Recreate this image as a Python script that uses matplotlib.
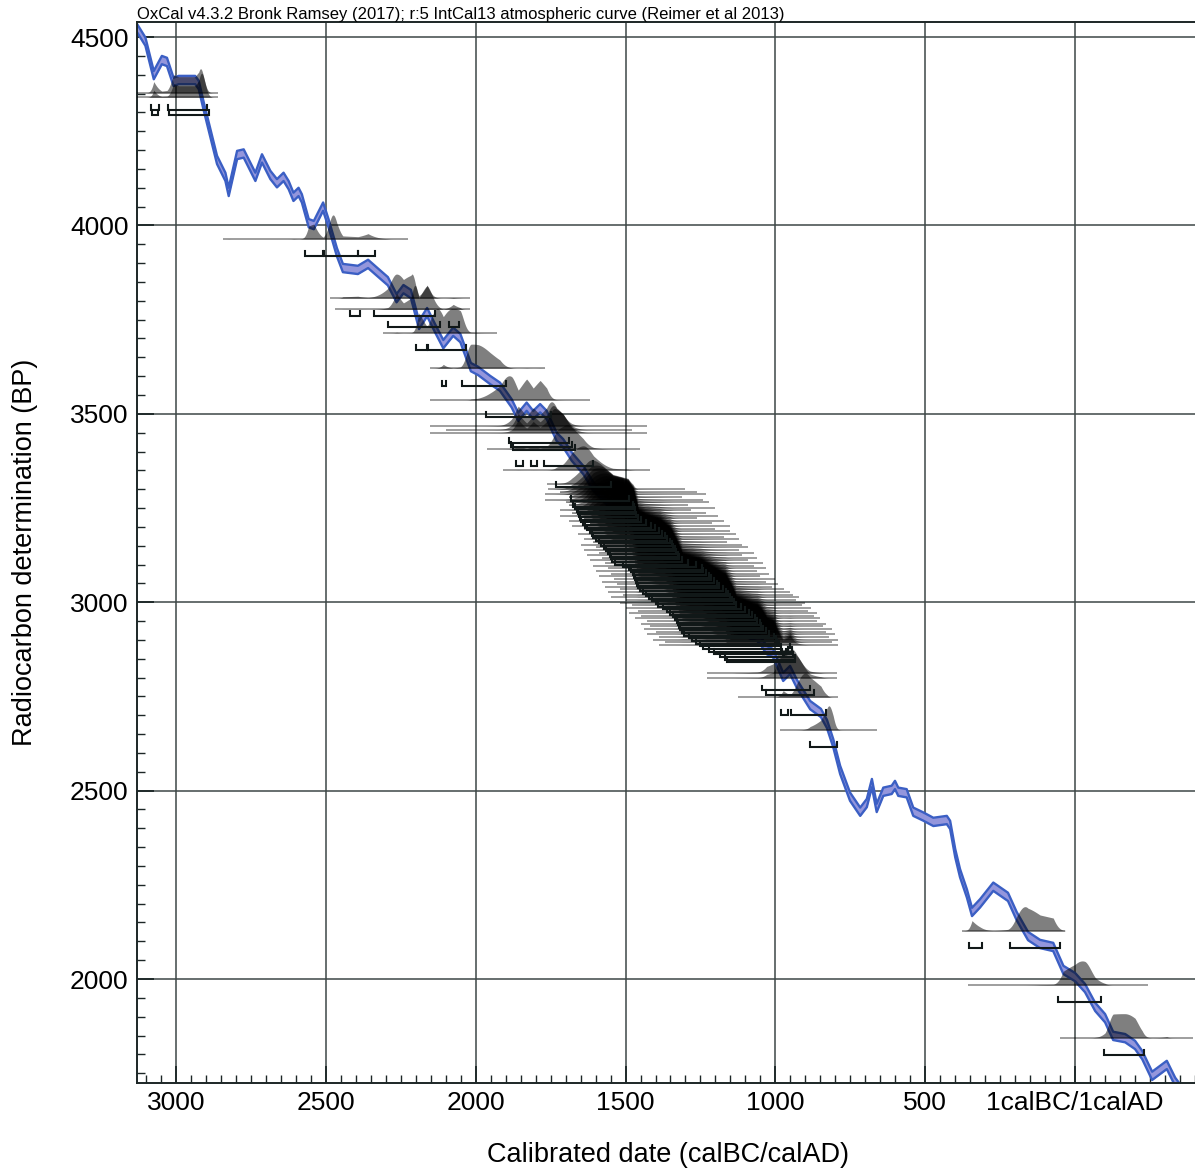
import numpy as np
import matplotlib
matplotlib.use('Agg')
import matplotlib.pyplot as plt

plt.rcParams['font.family'] = ['Liberation Sans', 'DejaVu Sans']

# IntCal13 curve (years: BC negative, AD positive)
curve_yr = np.array([
    -3130, -3102, -3074, -3047, -3030, -3008, -2991, -2936, -2924, -2907,
    -2863, -2835, -2824, -2796, -2774, -2735, -2713, -2685, -2663, -2641,
    -2624, -2608, -2591, -2580, -2557, -2540, -2509, -2491, -2463, -2443,
    -2393, -2359, -2329, -2293, -2264, -2241, -2216, -2189, -2162, -2136,
    -2108, -2075, -2051, -2016, -1992, -1952, -1919, -1880, -1858, -1830,
    -1808, -1785, -1763, -1730, -1708, -1679, -1641, -1607, -1574, -1542,
    -1492, -1475, -1458, -1435, -1385, -1351, -1331, -1311, -1251, -1201,
    -1168, -1148, -1131, -1101, -1078, -1061, -1051,
    -1029, -1008, -974, -951, -928, -884, -848, -828, -807, -784,
    -751, -717, -695, -678, -662, -640, -612, -601, -590, -562,
    -540, -506, -473, -428, -417, -400, -384, -361, -344, -317,
    -273, -224, -195, -157, -117, -73, -39, 0, 33, 67,
    100, 127, 167, 200, 224, 257, 306, 334, 367, 400])
curve_bp = np.array([
    4524, 4488, 4399, 4439, 4434, 4381, 4386, 4386, 4373, 4315,
    4174, 4129, 4089, 4187, 4191, 4129, 4178, 4134, 4112, 4129,
    4107, 4076, 4089, 4072, 4006, 4001, 4050, 4006, 3929, 3887,
    3882, 3898, 3877, 3852, 3807, 3831, 3818, 3736, 3770, 3728,
    3685, 3718, 3701, 3624, 3614, 3590, 3572, 3528, 3492, 3519,
    3497, 3515, 3497, 3439, 3422, 3386, 3351, 3307, 3280, 3253,
    3240, 3215, 3160, 3150, 3135, 3112, 3080, 3045, 3030, 3005,
    2990, 2960, 2930, 2920, 2912, 2908, 2900,
    2873, 2865, 2802, 2820, 2783, 2727, 2706, 2677, 2626, 2555,
    2484, 2444, 2467, 2520, 2454, 2497, 2502, 2515, 2497, 2493,
    2444, 2431, 2417, 2422, 2409, 2334, 2281, 2227, 2178, 2201,
    2245, 2218, 2167, 2114, 2093, 2085, 2024, 2005, 1976, 1926,
    1896, 1849, 1843, 1825, 1798, 1743, 1772, 1727, 1692, 1660])
curve_sd = 11

# isolated radiocarbon determinations (BP, 1 sigma) and baseline spans
single_bp = [4352, 4340, 3964, 3807, 3777, 3715, 3621, 3537,
             3468, 3458, 3450, 3407, 3351, 3314,
             2812, 2799, 2748, 2661, 2128, 1984, 1844]
single_sd = [35, 35, 35, 30, 30, 30, 30, 30,
             35, 35, 35, 40, 40, 40,
             35, 35, 30, 30, 35, 35, 25]
single_from = [-3130, -3130, -2843, -2486, -2469, -2309, -2152, -2152,
               -2152, -2100, -2152, -1962, -1909, -1762,
               -1228, -1228, -1125, -984, -377, -357, -50]
single_to = [-2860, -2860, -2226, -2019, -2019, -1929, -1769, -1618,
             -1428, -1480, -1428, -1452, -1418, -1508,
             -794, -794, -791, -661, -33, 244, 394]

# the dense group of determinations, 3300-2887 BP
cluster_bp = [3300, 3293, 3286, 3279, 3272, 3265, 3258, 3251, 3244, 3237,
              3230, 3223, 3216, 3209, 3202, 3195, 3188, 3181, 3174, 3167,
              3160, 3153, 3146, 3139, 3132, 3125, 3118, 3111, 3104, 3097,
              3090, 3083, 3076, 3069, 3062, 3055, 3048, 3041, 3034, 3027,
              3020, 3013, 3006, 2999, 2992, 2985, 2978, 2971, 2964, 2957,
              2950, 2943, 2936, 2929, 2922, 2915, 2908, 2901, 2894, 2887]
cluster_from = [-1760, -1720, -1770, -1690, -1770, -1700, -1690, -1650, -1720, -1680,
                -1720, -1640, -1690, -1620, -1680, -1640, -1620, -1660, -1600, -1640,
                -1610, -1650, -1600, -1640, -1590, -1630, -1580, -1620, -1570, -1610,
                -1560, -1600, -1550, -1590, -1540, -1580, -1530, -1570, -1520, -1560,
                -1510, -1550, -1500, -1520, -1480, -1500, -1460, -1490, -1450, -1470,
                -1430, -1450, -1420, -1440, -1400, -1430, -1390, -1410, -1370, -1390]
cluster_to = [-1300, -1260, -1230, -1310, -1240, -1220, -1290, -1200, -1280, -1230,
              -1190, -1260, -1170, -1210, -1150, -1200, -1150, -1130, -1170, -1120,
              -1160, -1110, -1090, -1120, -1070, -1110, -1060, -1090, -1040, -1070,
              -1030, -1060, -1020, -1050, -1000, -1030, -990, -1010, -970, -950,
              -940, -920, -930, -900, -910, -880, -890, -860, -870, -850,
              -860, -830, -840, -810, -830, -800, -820, -790, -810, -790]
cluster_sd = 45

date_bp = single_bp + cluster_bp
date_sd = single_sd + [cluster_sd] * len(cluster_bp)
line_from = single_from + cluster_from
line_to = single_to + cluster_to

x_ticks = [-3000, -2500, -2000, -1500, -1000, -500, 0]
x_labels = ['3000', '2500', '2000', '1500', '1000', '500', '1calBC/1calAD']
y_ticks = [2000, 2500, 3000, 3500, 4000, 4500]

fig = plt.figure(figsize=(11.95, 11.69), dpi=100)
ax = fig.add_axes([137 / 1195, 86 / 1169, 1058 / 1195, 1061 / 1169])
ax.set_xlim(-3130, 400)
ax.set_ylim(1724, 4540)

# calibration curve band
ax.fill_between(curve_yr, curve_bp - curve_sd, curve_bp + curve_sd,
                color='#9496dc', lw=0, zorder=2)
ax.plot(curve_yr, curve_bp - curve_sd, color='#3b5fc4', lw=1.7, zorder=2)
ax.plot(curve_yr, curve_bp + curve_sd, color='#3b5fc4', lw=1.7, zorder=2)

# calibrated distributions
t = np.arange(-3200, 451)
mu = np.interp(t, curve_yr, curve_bp)
for bp, sd, lo, hi in zip(date_bp, date_sd, line_from, line_to):
    p = np.exp(-0.5 * (bp - mu) ** 2 / (sd ** 2 + 15 ** 2))
    p = p / p.sum()
    m = (t >= lo) & (t <= hi)
    ax.hlines(bp, lo, hi, color='k', alpha=0.38, lw=1.4, zorder=3)
    h = p / p.max() * 64
    ax.fill_between(t[m], bp, bp + h[m], color='#000000', alpha=0.5,
                    lw=0, zorder=3)
    # 95.4% hpd ranges as brackets under the baseline
    order = np.argsort(p)[::-1]
    n = np.searchsorted(np.cumsum(p[order]), 0.954) + 1
    keep = np.zeros(len(t), int)
    keep[order[:n]] = 1
    edges = np.flatnonzero(np.diff(np.r_[0, keep, 0]))
    yb = bp - 46
    for a, b in zip(edges[::2], edges[1::2]):
        x0, x1 = t[a], t[b - 1] + 1
        ax.plot([x0, x0, x1, x1], [yb + 13, yb, yb, yb + 13],
                color='#111818', lw=1.5, zorder=4, solid_joinstyle='miter')

ax.set_xticks(x_ticks)
ax.set_xticklabels(x_labels)
ax.set_xticks(np.arange(-3100, 401, 50), minor=True)
ax.set_yticks(y_ticks)
ax.set_yticks(np.arange(1750, 4540, 50), minor=True)
ax.grid(True, which='major', color='#3d4747', lw=1.1)
ax.set_axisbelow(True)
ax.tick_params(which='both', direction='in', labelsize=19, pad=6,
               color='#1c2626', top=False, right=False)
ax.tick_params(which='major', length=12, width=1.3)
ax.tick_params(which='minor', length=6, width=1.0)
for s in ['left', 'bottom', 'top']:
    ax.spines[s].set_linewidth(1.4)
    ax.spines[s].set_color('#1c2626')
ax.spines['right'].set_visible(False)

fig.text(137 / 1195, 1 - 14 / 1169,
         'OxCal v4.3.2 Bronk Ramsey (2017); r:5 IntCal13 atmospheric curve (Reimer et al 2013)',
         ha='left', va='center', fontsize=12)
fig.text(25 / 1195, 1 - 552 / 1169, 'Radiocarbon determination (BP)',
         rotation=90, ha='center', va='center', fontsize=19.5)
fig.text(668 / 1195, 1 - 1155 / 1169, 'Calibrated date (calBC/calAD)',
         ha='center', va='center', fontsize=19.5)

fig.savefig('out.png', dpi=100)
